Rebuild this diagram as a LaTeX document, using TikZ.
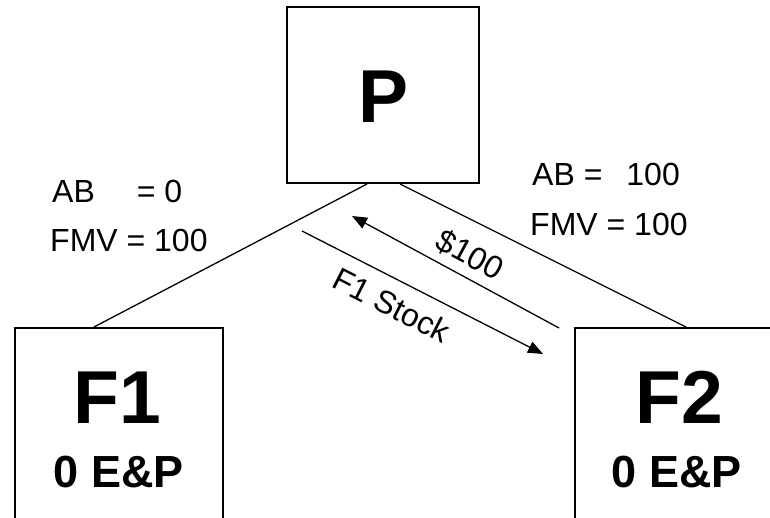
\documentclass[tikz,border=0pt]{standalone}
\usepackage{fontspec}
\setmainfont{Liberation Sans}
\usetikzlibrary{arrows.meta,calc}
\begin{document}
\begin{tikzpicture}[x=1pt,y=-1pt,
  box/.style={draw,line width=2pt,inner sep=0pt},
  conn/.style={line width=1.3pt},
  flow/.style={line width=1.3pt,-{Triangle[length=15pt,width=12pt]}},
  lbl/.style={font=\fontsize{32}{38}\selectfont,inner sep=0pt},
  big/.style={font=\fontsize{75}{80}\selectfont\bfseries,inner sep=0pt},
  sub/.style={font=\fontsize{45}{50}\selectfont\bfseries,inner sep=0pt}]
\clip (0,0) rectangle (770,518);
\useasboundingbox (0,0) rectangle (770,518);
\fill[white] (0,0) rectangle (770,518);
% boxes
\node[box,minimum width=192pt,minimum height=176pt] (P) at (383,95) {};
\node[big,anchor=base] (Pt) at (384,123) {P};
\node[box,minimum width=208pt,minimum height=300pt] (F1) at (119,478) {};
\node[big,anchor=base] (F1t) at (117,423) {F1};
\node[sub,anchor=base] (F1e) at (119,487) {0 E\&P};
\node[box,minimum width=208pt,minimum height=300pt] (F2) at (679,478) {};
\node[big,anchor=base] (F2t) at (679,423) {F2};
\node[sub,anchor=base] (F2e) at (677,487) {0 E\&P};
% ownership lines
\draw[conn] ($(P.south)+(-16,0)$) -- ($(F1.north west)+(80,0)$);
\draw[conn] ($(P.south)+(17,0)$) -- ($(F2.north west)+(112,0)$);
% flows
\coordinate (a1s) at (559,328);
\coordinate (a1e) at (352,216);
\coordinate (a2s) at (302,231);
\coordinate (a2e) at (543,354);
\draw[flow] (a1s) -- (a1e);
\draw[flow] (a2s) -- (a2e);
\node[lbl,rotate=-28.4] (m1) at (470,255) {\$100};
\node[lbl,rotate=-27] (m2) at (392,305) {F1 Stock};
% basis labels
\node[lbl,anchor=base west] (ab1) at (52,203) {AB\hspace{42pt}= 0};
\node[lbl,anchor=base west] (fmv1) at (50,252) {FMV = 100};
\node[lbl,anchor=base west] (ab2) at (532,186) {AB =\hspace{24pt}100};
\node[lbl,anchor=base west] (fmv2) at (530,236) {FMV = 100};
\end{tikzpicture}
\end{document}
